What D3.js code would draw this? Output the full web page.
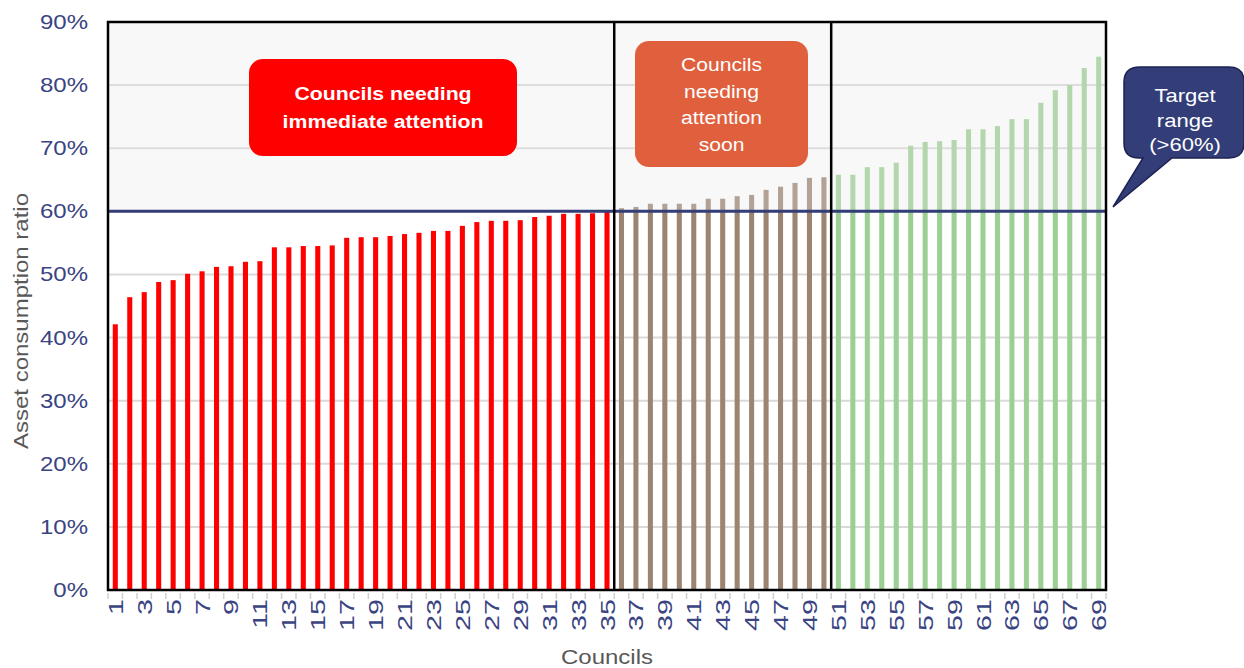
<!DOCTYPE html>
<html>
<head>
<meta charset="utf-8">
<script src="https://cdn.jsdelivr.net/npm/d3@7"></script>
<style>
  body { margin: 0; background: #fff; }
  svg { display: block; font-family: "Liberation Sans", Arial, sans-serif; }
</style>
</head>
<body>
<div id="chart"></div>
<script>
// councils numbered 1..69, sorted by asset consumption ratio
const councils = d3.range(1, 70);
const ratios = [
  0.421, 0.464, 0.472, 0.488, 0.491, 0.501, 0.505, 0.512, 0.513, 0.520,
  0.521, 0.543, 0.543, 0.545, 0.545, 0.546, 0.558, 0.559, 0.559, 0.561,
  0.564, 0.566, 0.569, 0.569, 0.577, 0.583, 0.585, 0.585, 0.586, 0.591,
  0.593, 0.596, 0.596, 0.597, 0.599, 0.605, 0.607, 0.612, 0.612, 0.612,
  0.612, 0.620, 0.620, 0.624, 0.626, 0.634, 0.639, 0.645, 0.653, 0.654,
  0.658, 0.658, 0.670, 0.670, 0.677, 0.704, 0.710, 0.711, 0.713, 0.730,
  0.730, 0.735, 0.746, 0.746, 0.772, 0.792, 0.800, 0.827, 0.845
];
const yTicks = [0, 0.1, 0.2, 0.3, 0.4, 0.5, 0.6, 0.7, 0.8, 0.9];
const groupEnds = [35, 50];          // last council of each group
const groupColors = ["#ff0000", "#9b8472", "#9ccf93"];
const target = 0.6;

const width = 1244, height = 668;
const margin = { top: 22, right: 138, bottom: 78, left: 108 };
const navy = "#3a4482";

const svg = d3.select("#chart").append("svg")
  .attr("width", width)
  .attr("height", height);

const x = d3.scaleBand()
  .domain(councils)
  .range([margin.left, width - margin.right])
  .paddingInner(0.65)
  .paddingOuter(0.33);

const y = d3.scaleLinear()
  .domain([0, 0.9])
  .range([height - margin.bottom, margin.top]);

const x0 = margin.left, x1 = width - margin.right;
const boundary = n => x0 + (x1 - x0) * n / councils.length;

const groupOf = d => d <= groupEnds[0] ? 0 : d <= groupEnds[1] ? 1 : 2;

// the source font is a bit wider than Liberation Sans, so stretch along the baseline
function label(parent, tx, ty, rot, sx) {
  return parent.append("text")
    .attr("transform", `translate(${tx},${ty}) rotate(${rot}) scale(${sx},1)`);
}

// gridlines
svg.append("g")
  .selectAll("line")
  .data(yTicks.slice(1))
  .join("line")
  .attr("x1", x0).attr("x2", x1)
  .attr("y1", d => y(d)).attr("y2", d => y(d))
  .attr("stroke", "#d9d9d9")
  .attr("stroke-width", 2);

// bars
svg.append("g")
  .selectAll("rect")
  .data(councils)
  .join("rect")
  .attr("x", d => x(d))
  .attr("y", (d, i) => y(ratios[i]))
  .attr("width", x.bandwidth())
  .attr("height", (d, i) => y(0) - y(ratios[i]))
  .attr("fill", d => groupColors[groupOf(d)]);

// shaded target region above 60%
svg.append("rect")
  .attr("x", x0).attr("y", y(0.9))
  .attr("width", x1 - x0)
  .attr("height", y(target) - y(0.9))
  .attr("fill", "#e8e8e8")
  .attr("opacity", 0.3);

// target line
svg.append("line")
  .attr("x1", x0).attr("x2", x1)
  .attr("y1", y(target)).attr("y2", y(target))
  .attr("stroke", "#333d78")
  .attr("stroke-width", 3);

// group dividers
svg.append("g")
  .selectAll("line")
  .data(groupEnds)
  .join("line")
  .attr("x1", d => boundary(d)).attr("x2", d => boundary(d))
  .attr("y1", y(0.9)).attr("y2", y(0))
  .attr("stroke", "#000")
  .attr("stroke-width", 2.5);

// frame
svg.append("rect")
  .attr("x", x0).attr("y", y(0.9))
  .attr("width", x1 - x0).attr("height", y(0) - y(0.9))
  .attr("fill", "none")
  .attr("stroke", "#000")
  .attr("stroke-width", 2.5);

// x tick marks at band boundaries
svg.append("g")
  .selectAll("line")
  .data(d3.range(0, councils.length + 1))
  .join("line")
  .attr("x1", d => boundary(d)).attr("x2", d => boundary(d))
  .attr("y1", y(0) + 3).attr("y2", y(0) + 9)
  .attr("stroke", "#d0d0d0")
  .attr("stroke-width", 1.5);

// x tick labels (odd councils)
const xLab = svg.append("g");
councils.filter(d => d % 2 === 1).forEach(d => {
  label(xLab, x(d) + x.bandwidth() / 2 + 7.5, y(0) + 9, -90, 1.4)
    .attr("text-anchor", "end")
    .attr("font-size", 20.5)
    .attr("fill", navy)
    .text(d);
});

// y axis labels
const yLab = svg.append("g");
yTicks.forEach(d => {
  label(yLab, 88, y(d), 0, 1.2)
    .attr("dy", "0.35em")
    .attr("text-anchor", "end")
    .attr("font-size", 20)
    .attr("fill", navy)
    .text(d3.format(".0%")(d));
});

// axis titles
label(svg, (x0 + x1) / 2, 664, 0, 1.2)
  .attr("text-anchor", "middle")
  .attr("font-size", 20)
  .attr("fill", "#595959")
  .text("Councils");

label(svg, 28, 321, -90, 1.2)
  .attr("text-anchor", "middle")
  .attr("font-size", 20)
  .attr("fill", "#595959")
  .text("Asset consumption ratio");

// annotation boxes
function box(bx, by, bw, bh, fill, lines, weight, lineH, firstY, sx) {
  svg.append("rect")
    .attr("x", bx).attr("y", by)
    .attr("width", bw).attr("height", bh)
    .attr("rx", 14)
    .attr("fill", fill);
  lines.forEach((t, i) => {
    label(svg, bx + bw / 2, firstY + i * lineH, 0, sx)
      .attr("text-anchor", "middle")
      .attr("font-size", 19)
      .attr("font-weight", weight)
      .attr("fill", "#fff")
      .text(t);
  });
}

box(249, 59, 268, 97, "#ff0000", ["Councils needing", "immediate attention"], "bold", 28, 100, 1.12);
box(635, 41, 173, 126, "#e0603e", ["Councils", "needing", "attention", "soon"], "normal", 26.5, 71, 1.11);

// target callout
const callout = d3.path();
callout.moveTo(1140, 67);
callout.lineTo(1229, 67);
callout.quadraticCurveTo(1244, 67, 1244, 82);
callout.lineTo(1244, 143);
callout.quadraticCurveTo(1244, 158, 1229, 158);
callout.lineTo(1172, 158);
callout.lineTo(1113, 207);
callout.lineTo(1143, 158);
callout.lineTo(1139, 158);
callout.quadraticCurveTo(1124, 158, 1124, 143);
callout.lineTo(1124, 82);
callout.quadraticCurveTo(1124, 67, 1140, 67);
callout.closePath();

svg.append("path")
  .attr("d", callout.toString())
  .attr("fill", "#333d78")
  .attr("stroke", "#1c2350")
  .attr("stroke-width", 1.5);

["Target", "range", "(>60%)"].forEach((t, i) => {
  label(svg, 1185, 102 + i * 24.5, 0, 1.16)
    .attr("text-anchor", "middle")
    .attr("font-size", 19)
    .attr("fill", "#fff")
    .text(t);
});
</script>
</body>
</html>
